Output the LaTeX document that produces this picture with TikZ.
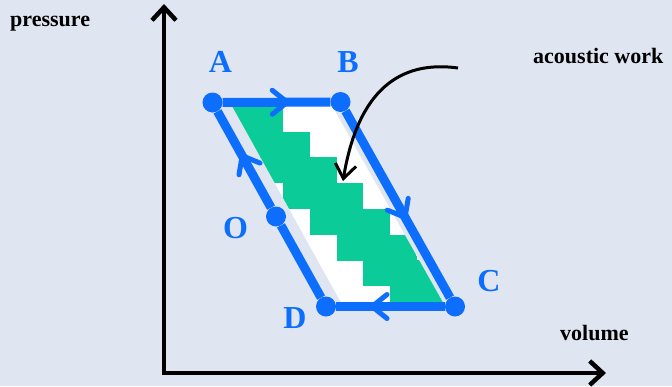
\documentclass[tikz,border=0pt]{standalone}
\usepackage{fontspec}
\setmainfont{Liberation Serif}
\usetikzlibrary{arrows.meta,decorations.markings}
\definecolor{bgpaper}{HTML}{DFE6F1}
\definecolor{cycleblue}{HTML}{0D6EFD}
\definecolor{workgreen}{HTML}{0BCB98}

\begin{document}
\begin{tikzpicture}[
  x=1pt, y=-1pt,
  axis/.style={line width=4.5pt, line join=miter,
               >={Straight Barb[length=13pt,width=24pt]}},
  edge/.style={draw=cycleblue, line width=9pt},
  flow/.style={postaction={decorate, decoration={markings,
      mark=at position #1 with
      {\draw[cycleblue, line width=5pt, line cap=round, line join=round]
         (-15pt,-12pt) -- (0pt,0pt) -- (-15pt,12pt);}}}},
  state/.style={circle, fill=cycleblue, inner sep=0pt, minimum size=20pt},
  statelabel/.style={text=cycleblue, anchor=base, inner sep=0pt,
                     font=\fontsize{32}{36}\selectfont\bfseries},
  axislabel/.style={anchor=base west, inner sep=0pt,
                    font=\fontsize{22}{26}\selectfont\bfseries},
  pointer/.style={line width=3pt, -{Straight Barb[length=14pt,width=21pt]}}
]
  \fill[bgpaper] (0,0) rectangle (672,386);
  \useasboundingbox (0,0) rectangle (672,386);

  % axes
  \coordinate (ptop) at (164,4);
  \coordinate (origin) at (164,373);
  \coordinate (vend) at (606,373);
  \draw[axis, <->] (ptop) -- (origin) -- (vend);

  % work area
  \begin{scope}
    \fill[white] (232,106) -- (332,106) -- (445,306) -- (343,306) -- cycle;
    \clip (232,106) -- (332,106) -- (445,306) -- (343,306) -- cycle;
    \foreach \r in {1,...,8}
      \fill[workgreen] ({283.3+(\r-4)*26.7},{106+(\r-1)*25.7})
        rectangle ({283.3+(\r-1)*26.7},{106.3+\r*25.7});
  \end{scope}

  % cycle
  \node[state] (A) at (212.5,102.5) {};
  \node[state] (B) at (340.5,102) {};
  \node[state] (C) at (455,306.5) {};
  \node[state] (D) at (326,306.5) {};
  \node[state] (O) at (276,216.5) {};

  \draw[edge, flow=0.6] (A) -- (B);
  \draw[edge, flow=0.57] (B) -- (C);
  \draw[edge, flow=0.67] (C) -- (D);
  \draw[edge] (D) -- (O);
  \draw[edge, flow=0.54] (O) -- (A);

  \node[statelabel] (labA) at (220.5,72) {A};
  \node[statelabel] (labB) at (348,72) {B};
  \node[statelabel] (labC) at (489,291) {C};
  \node[statelabel] (labD) at (295,328) {D};
  \node[statelabel] (labO) at (235.5,238) {O};

  % labels
  \node[axislabel] (pressure) at (10,26) {pressure};
  \node[axislabel] (volume) at (560,340) {volume};
  \node[axislabel] (work) at (533,63) {acoustic work};

  \coordinate (worktail) at (458,68);
  \coordinate (workhead) at (343,181);
  \draw[pointer] (worktail) .. controls (400,60) and (358,90) .. (workhead);
\end{tikzpicture}
\end{document}
